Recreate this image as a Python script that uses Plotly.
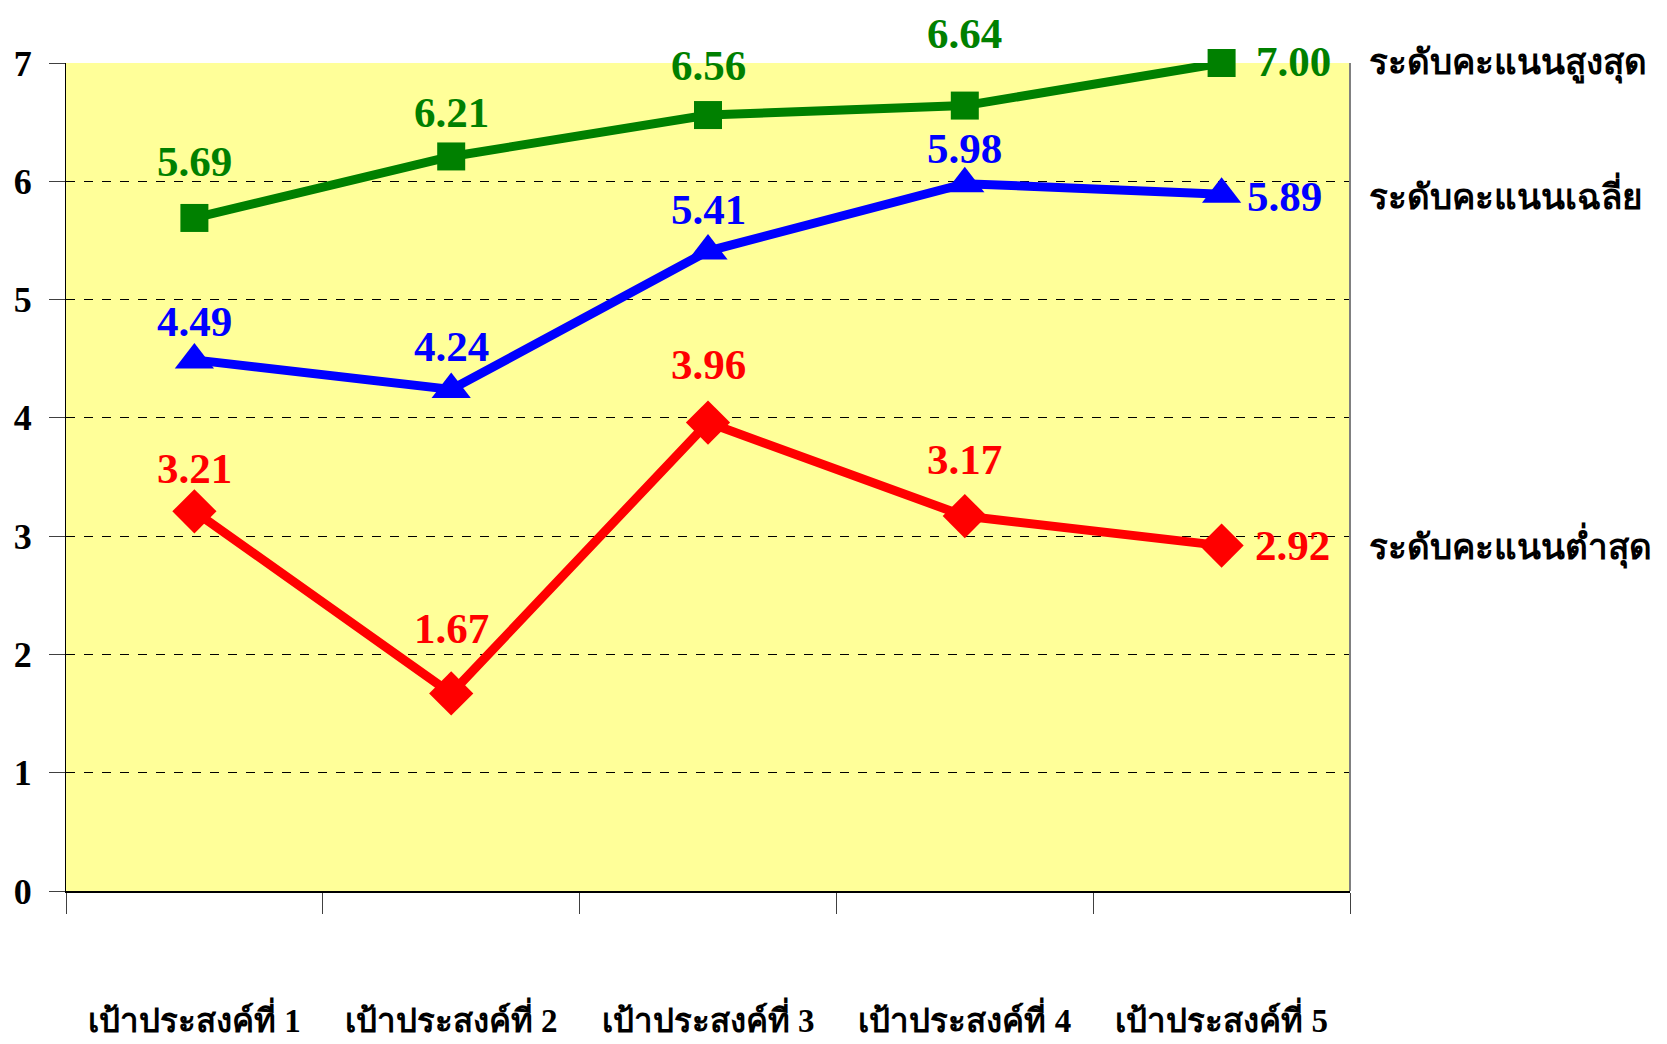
import plotly.graph_objects as go

# categories and series values
categories = ["เป้าประสงค์ที่ 1", "เป้าประสงค์ที่ 2", "เป้าประสงค์ที่ 3",
              "เป้าประสงค์ที่ 4", "เป้าประสงค์ที่ 5"]
max_scores = [5.69, 6.21, 6.56, 6.64, 7.00]
avg_scores = [4.49, 4.24, 5.41, 5.98, 5.89]
min_scores = [3.21, 1.67, 3.96, 3.17, 2.92]
series_names = ["ระดับคะแนนสูงสุด", "ระดับคะแนนเฉลี่ย", "ระดับคะแนนต่ำสุด"]
y_ticks = [0, 1, 2, 3, 4, 5, 6, 7]

NUM_FONT = "Liberation Serif, Times New Roman, serif"
THAI_FONT = "Liberation Serif, Noto Sans, DejaVu Sans, sans-serif"

# (values, colour, marker symbol, marker size, label shifts in px: (dx, dy) per point)
series = [
    (max_scores, "#008000", "square", 28,
     [(0, 56), (0, 44), (0, 50), (0, 72), (72, 2)]),
    (avg_scores, "#0000FF", "triangle-up", 34,
     [(0, 38), (0, 43), (0, 42), (0, 35), (63, -2)]),
    (min_scores, "#FF0000", "diamond", 34,
     [(0, 43), (0, 65), (0, 58), (0, 57), (71, 0)]),
]

fig = go.Figure()
annotations = []
for (vals, color, symbol, msize, shifts), name in zip(series, series_names):
    fig.add_trace(go.Scatter(
        x=categories, y=vals, mode="lines+markers", name=name,
        line=dict(color=color, width=9),
        marker=dict(symbol=symbol, size=msize, color=color),
        cliponaxis=False,
    ))
    for cat, v, (dx, dy) in zip(categories, vals, shifts):
        annotations.append(dict(
            x=cat, y=v, text=f"{v:.2f}", showarrow=False,
            xshift=dx, yshift=dy,
            font=dict(family=NUM_FONT, size=43, color=color, weight="bold"),
        ))
    # series name to the right of the plot, level with the last value
    annotations.append(dict(
        x=1.013, xref="paper", y=vals[-1], yref="y", text=name,
        showarrow=False, xanchor="left", yanchor="middle",
        font=dict(family=THAI_FONT, size=35, color="black", weight="bold"),
    ))

# the page body adds an 8px offset, so margins are trimmed on top/left
fig.update_layout(
    width=1667, height=1044,
    margin=dict(l=58, r=325, t=55, b=161),
    paper_bgcolor="white",
    plot_bgcolor="#FFFF99",
    showlegend=False,
    annotations=annotations,
    shapes=[dict(type="line", xref="paper", yref="paper", x0=1, x1=1, y0=0, y1=1,
                 line=dict(color="#808080", width=2))],
)

fig.update_xaxes(
    type="category", range=[-0.5, 4.5], automargin=False,
    tickson="boundaries", ticks="outside", ticklen=21, tickcolor="#404040",
    showgrid=False, showline=True, linecolor="black", linewidth=2,
    ticklabelstandoff=99,
    tickfont=dict(family=THAI_FONT, size=33, color="black", weight="bold"),
)
fig.update_yaxes(
    range=[0, 7], tickvals=y_ticks, automargin=False,
    ticks="outside", ticklen=16, tickcolor="#404040",
    showgrid=True, gridcolor="black", gridwidth=1, griddash="dash",
    showline=True, linecolor="black", linewidth=1, zeroline=False,
    ticklabelstandoff=10,
    tickfont=dict(family=NUM_FONT, size=36, color="black", weight="bold"),
)

fig.write_html("out.html")
